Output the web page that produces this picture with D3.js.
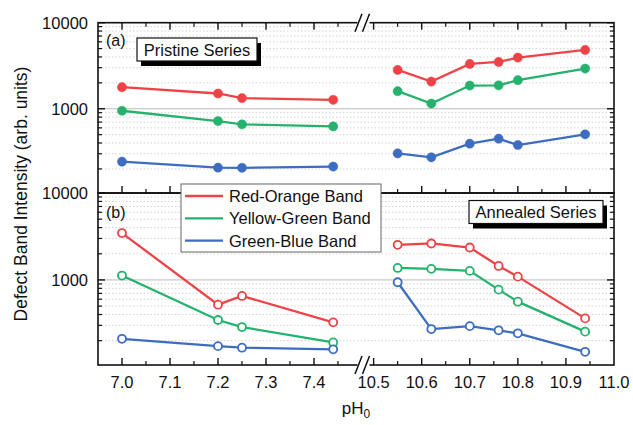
<!DOCTYPE html>
<html><head><meta charset="utf-8">
<script src="https://cdn.jsdelivr.net/npm/d3@7"></script>
<style>body{margin:0;background:#fff}svg{display:block}text{font-family:Arial,"Liberation Sans",sans-serif;fill:#111}</style>
</head><body><svg id="c" width="633" height="425"></svg>
<script>
// ---- data ----
const phLow = [7.0, 7.2, 7.25, 7.44];
const phHigh = [10.55, 10.62, 10.70, 10.76, 10.80, 10.94];
const seriesNames = ["Red-Orange Band", "Yellow-Green Band", "Green-Blue Band"];
// Pristine series (a)
const pristineRedLow = [1780, 1505, 1330, 1270];
const pristineGreenLow = [948, 719, 659, 624];
const pristineBlueLow = [243, 207, 206, 213];
const pristineRedHigh = [2830, 2070, 3320, 3500, 3930, 4830];
const pristineGreenHigh = [1600, 1150, 1860, 1870, 2150, 2930];
const pristineBlueHigh = [303, 273, 393, 449, 379, 504];
// Annealed series (b)
const annealedRedLow = [3460, 519, 654, 325];
const annealedGreenLow = [1122, 346, 287, 191];
const annealedBlueLow = [210, 173, 166, 159];
const annealedRedHigh = [2535, 2626, 2360, 1449, 1091, 361];
const annealedGreenHigh = [1374, 1340, 1270, 773, 562, 254];
const annealedBlueHigh = [940, 272, 294, 263, 243, 149];
const xTickLabelsLow = ["7.0", "7.1", "7.2", "7.3", "7.4"];
const xTickLabelsHigh = ["10.5", "10.6", "10.7", "10.8", "10.9", "11.0"];
const yTickLabels = ["10000", "1000"];

const colors = ["#EE4346", "#24B26D", "#3C6DC0"];
const svg = d3.select("#c");
const L = 98, R = 614;
const x = d3.scaleLinear().domain([6.95, 7.5, 10.48, 11.0]).range([L, 362, 364, R]);
const panels = [
  {top: 22.7, bottom: 193, filled: true,
   low: [pristineRedLow, pristineGreenLow, pristineBlueLow],
   high: [pristineRedHigh, pristineGreenHigh, pristineBlueHigh]},
  {top: 193, bottom: 365, filled: false,
   low: [annealedRedLow, annealedGreenLow, annealedBlueLow],
   high: [annealedRedHigh, annealedGreenHigh, annealedBlueHigh]}
];
const majorX = xTickLabelsLow.concat(xTickLabelsHigh).map(Number);
const minorX = [7.05,7.15,7.25,7.35,7.45,10.55,10.65,10.75,10.85,10.95];
const minorY = [200,300,400,500,600,700,800,900,2000,3000,4000,5000,6000,7000,8000,9000];

panels.forEach((p, pi) => {
  const y = d3.scaleLog().domain([105, 10000]).range([p.bottom, p.top]);
  p.y = y;
  const g = svg.append("g");
  // grid
  g.selectAll(".gm").data(minorY).join("line")
    .attr("x1", L).attr("x2", R).attr("y1", d => y(d)).attr("y2", d => y(d))
    .attr("stroke", "#c8c8c8").attr("stroke-width", 0.8).attr("stroke-dasharray", "1.5,2");
  g.append("line").attr("x1", L).attr("x2", R).attr("y1", y(1000)).attr("y2", y(1000))
    .attr("stroke", "#bbb").attr("stroke-width", 1);
  // y ticks (left & right, inward)
  [[L, 1], [R, -1]].forEach(([xx, dir]) => {
    g.selectAll(null).data(minorY).join("line")
      .attr("x1", xx).attr("x2", xx + dir * 4).attr("y1", d => y(d)).attr("y2", d => y(d))
      .attr("stroke", "#111").attr("stroke-width", 1.2);
    g.selectAll(null).data(yTickLabels.map(Number)).join("line")
      .attr("x1", xx).attr("x2", xx + dir * 7).attr("y1", d => y(d)).attr("y2", d => y(d))
      .attr("stroke", "#111").attr("stroke-width", 1.4);
  });
  // y labels
  g.selectAll(null).data(yTickLabels).join("text")
    .attr("x", 88).attr("y", d => y(+d) + 6).attr("text-anchor", "end")
    .attr("font-size", 16.5).text(d => d);
  // x ticks inward
  const edges = pi === 0 ? [[p.top, 1], [p.bottom, -1]] : [[p.bottom, -1]];
  edges.forEach(([yy, dir]) => {
    g.selectAll(null).data(majorX.filter(d => d < 11)).join("line")
      .attr("x1", d => x(d)).attr("x2", d => x(d)).attr("y1", yy).attr("y2", yy + dir * 7)
      .attr("stroke", "#111").attr("stroke-width", 1.4);
    g.selectAll(null).data(minorX).join("line")
      .attr("x1", d => x(d)).attr("x2", d => x(d)).attr("y1", yy).attr("y2", yy + dir * 4)
      .attr("stroke", "#111").attr("stroke-width", 1.2);
  });
  // frame
  g.append("rect").attr("x", L).attr("y", p.top).attr("width", R - L).attr("height", p.bottom - p.top)
    .attr("fill", "none").attr("stroke", "#111").attr("stroke-width", 1.6);
  // series
  const line = d3.line().x(d => x(d[0])).y(d => y(d[1]));
  [[phLow, p.low], [phHigh, p.high]].forEach(([xs, sets]) => {
    sets.forEach((vals, si) => {
      const pts = xs.map((v, i) => [v, vals[i]]);
      g.append("path").datum(pts).attr("d", line).attr("fill", "none")
        .attr("stroke", colors[si]).attr("stroke-width", 2.3);
      g.selectAll(null).data(pts).join("circle")
        .attr("cx", d => x(d[0])).attr("cy", d => y(d[1]))
        .attr("r", p.filled ? 4.6 : 4.0)
        .attr("fill", p.filled ? colors[si] : "#fff")
        .attr("stroke", colors[si]).attr("stroke-width", p.filled ? 0.5 : 1.8);
    });
  });
});

// axis breaks
[22.7, 365].forEach(yy => {
  svg.append("rect").attr("x", 357.5).attr("y", yy - 2).attr("width", 12).attr("height", 4).attr("fill", "#fff");
  [355, 362.5].forEach(x0 => {
    svg.append("line").attr("x1", x0).attr("y1", yy + 9).attr("x2", x0 + 7).attr("y2", yy - 9)
      .attr("stroke", "#111").attr("stroke-width", 1.5);
  });
});

// panel labels
svg.append("text").attr("x", 106).attr("y", 46).attr("font-size", 16).text("(a)");
svg.append("text").attr("x", 106).attr("y", 218).attr("font-size", 16).text("(b)");

function seriesBox(x0, y0, w, h, txt) {
  svg.append("rect").attr("x", x0 + 4).attr("y", y0 + 5).attr("width", w).attr("height", h).attr("fill", "#000");
  svg.append("rect").attr("x", x0).attr("y", y0).attr("width", w).attr("height", h)
    .attr("fill", "#fff").attr("stroke", "#111").attr("stroke-width", 1.2);
  svg.append("text").attr("x", x0 + w / 2).attr("y", y0 + h / 2 + 6).attr("text-anchor", "middle")
    .attr("font-size", 16.5).text(txt);
}
seriesBox(137, 38, 120, 23, "Pristine Series");
seriesBox(469, 200.5, 134, 23, "Annealed Series");

// legend
const lg = svg.append("g");
lg.append("rect").attr("x", 181).attr("y", 184).attr("width", 200).attr("height", 68)
  .attr("fill", "#fff").attr("stroke", "#666").attr("stroke-width", 1);
seriesNames.forEach((n, i) => {
  const yy = 196 + i * 22.3;
  lg.append("line").attr("x1", 185).attr("x2", 223).attr("y1", yy).attr("y2", yy)
    .attr("stroke", colors[i]).attr("stroke-width", 2.3);
  lg.append("text").attr("x", 229).attr("y", yy + 6).attr("font-size", 16.5).text(n);
});

// x tick labels
svg.selectAll(null).data(xTickLabelsLow.concat(xTickLabelsHigh)).join("text")
  .attr("x", d => x(+d)).attr("y", 388).attr("text-anchor", "middle").attr("font-size", 16.5).text(d => d);

// axis titles
const xt = svg.append("text").attr("x", 356).attr("y", 414).attr("text-anchor", "middle").attr("font-size", 17);
xt.append("tspan").text("pH");
xt.append("tspan").attr("dy", 4).attr("font-size", 12).text("0");
svg.append("text").attr("transform", "translate(27,194) rotate(-90)").attr("text-anchor", "middle")
  .attr("font-size", 17.5).text("Defect Band Intensity (arb. units)");
</script></body></html>
